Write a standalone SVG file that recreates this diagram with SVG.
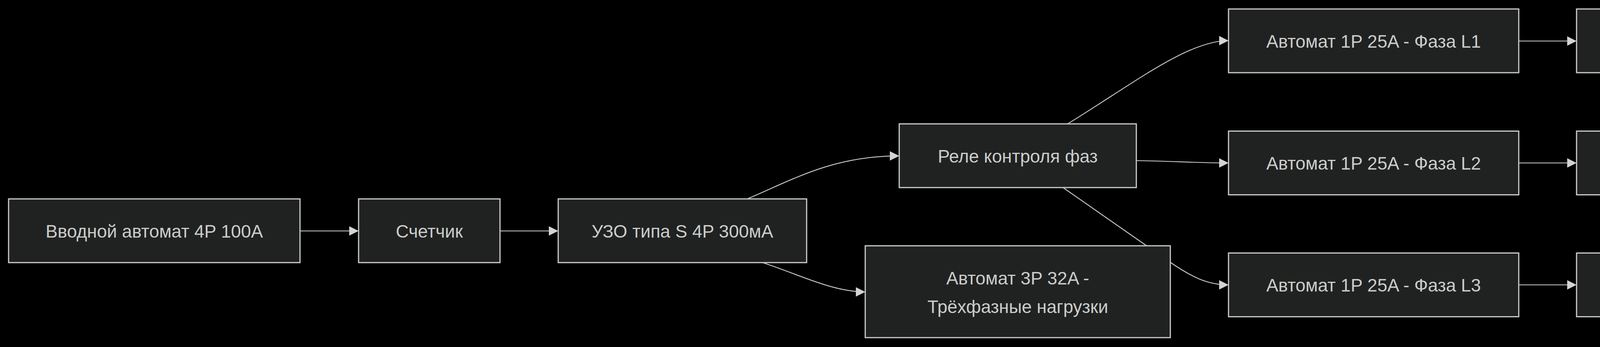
<svg xmlns="http://www.w3.org/2000/svg" width="5364" height="888" viewBox="0 0 5364 888">
<style>
.bg{fill:#000}
.node rect{fill:#202221;stroke:#cccccc;stroke-width:3}
.node text{font-family:"Liberation Sans",Arial,sans-serif;font-size:46px;fill:#cccccc;text-anchor:middle}
.edge{fill:none;stroke:#cccccc;stroke-width:2.2}
</style>
<defs>
<marker id="arr" viewBox="0 0 10 10" refX="10" refY="5" markerUnits="userSpaceOnUse" markerWidth="24" markerHeight="24" orient="auto">
<path d="M0,0 L10,5 L0,10 z" fill="#d3d3d3"/>
</marker>
</defs>
<rect class="bg" x="0" y="0" width="5364" height="888"/>
<g id="connectors">
<path class="edge" marker-end="url(#arr)" d="M768,591 L918,591"/>
<path class="edge" marker-end="url(#arr)" d="M1280,591 L1429,591"/>
<path class="edge" marker-end="url(#arr)" d="M1913,509 C2030,460 2130,399 2302,399"/>
<path class="edge" marker-end="url(#arr)" d="M1952,672 C2040,700 2130,747 2215,747"/>
<path class="edge" marker-end="url(#arr)" d="M2733,317 C2900,215 3040,104 3145,104"/>
<path class="edge" marker-end="url(#arr)" d="M2909,411 C3000,412 3060,417 3145,417"/>
<path class="edge" marker-end="url(#arr)" d="M2720,479 L2997,672 C3050,708 3090,729 3145,729"/>
<path class="edge" marker-end="url(#arr)" d="M3888,105 L4036,105"/>
<path class="edge" marker-end="url(#arr)" d="M3888,417 L4036,417"/>
<path class="edge" marker-end="url(#arr)" d="M3888,729 L4036,729"/>
<path class="edge" marker-end="url(#arr)" d="M4601,105 L4780,105"/>
<path class="edge" marker-end="url(#arr)" d="M4601,417 L4750,417"/>
<path class="edge" marker-end="url(#arr)" d="M4601,729 L4827,729"/>
</g>
<g id="n_vvod" class="node"><rect x="22" y="509" width="746" height="163"/><text x="395" y="608">Вводной автомат 4P 100A</text></g>
<g id="n_meter" class="node"><rect x="918" y="509" width="362" height="163"/><text x="1099" y="608">Счетчик</text></g>
<g id="n_uzo_s" class="node"><rect x="1429" y="509" width="636" height="163"/><text x="1747" y="608">УЗО типа S 4P 300мА</text></g>
<g id="n_rele" class="node"><rect x="2302" y="317" width="607" height="163"/><text x="2605.5" y="416">Реле контроля фаз</text></g>
<g id="n_3p" class="node"><rect x="2215" y="629" width="781" height="235"/><text x="2605.5" y="728">Автомат 3P 32A -</text><text x="2605.5" y="801">Трёхфазные нагрузки</text></g>
<g id="n_l1" class="node"><rect x="3145" y="23" width="743" height="163"/><text x="3516.5" y="122">Автомат 1P 25A - Фаза L1</text></g>
<g id="n_l2" class="node"><rect x="3145" y="335.5" width="743" height="163"/><text x="3516.5" y="434">Автомат 1P 25A - Фаза L2</text></g>
<g id="n_l3" class="node"><rect x="3145" y="647.5" width="743" height="163"/><text x="3516.5" y="746">Автомат 1P 25A - Фаза L3</text></g>
<g id="n_uzo1" class="node"><rect x="4036" y="23" width="565" height="163"/><text x="4318.5" y="122">УЗО 2P 25A/30мА</text></g>
<g id="n_uzo2" class="node"><rect x="4036" y="335.5" width="565" height="163"/><text x="4318.5" y="434">УЗО 2P 25A/30мА</text></g>
<g id="n_uzo3" class="node"><rect x="4036" y="647.5" width="565" height="163"/><text x="4318.5" y="746">УЗО 2P 25A/30мА</text></g>
<g id="n_garage" class="node"><rect x="4780" y="23" width="530" height="163"/><text x="5045" y="122">Розетки гаража</text></g>
<g id="n_kitchen" class="node"><rect x="4750" y="335.5" width="591" height="163"/><text x="5045.5" y="434">Кухонные розетки</text></g>
<g id="n_light" class="node"><rect x="4827" y="647.5" width="436" height="163"/><text x="5045" y="746">Освещение</text></g>
</svg>
